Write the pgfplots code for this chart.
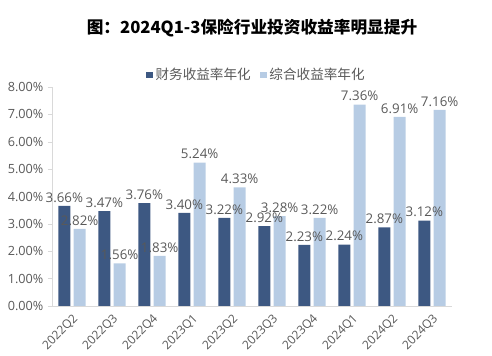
\documentclass[border=0pt]{standalone}
\usepackage{pgfplots}
\pgfplotsset{compat=1.18}
\usepackage{fontspec}
\setmainfont{Open Sans}
\newfontfamily\cjk{Noto Sans CJK SC}
\definecolor{darkb}{RGB}{61,88,130}
\definecolor{lightb}{RGB}{183,204,228}
\definecolor{txt}{RGB}{89,89,89}
\definecolor{axl}{RGB}{217,217,217}
\begin{document}
\begin{tikzpicture}
\useasboundingbox (-54pt,-37.5pt) rectangle (315pt,229.5pt);
\begin{axis}[
  at={(0,0)}, anchor=origin,
  scale only axis, width=300pt, height=164.25pt,
  ybar=2.5pt, bar width=9pt,
  xmin=-0.5, xmax=9.5, ymin=0, ymax=8,
  xtick={0,...,9},
  xticklabels={2022Q2,2022Q3,2022Q4,2023Q1,2023Q2,2023Q3,2023Q4,2024Q1,2024Q2,2024Q3},
  xticklabel style={rotate=45, anchor=north east, font=\fontsize{9pt}{10pt}\selectfont, text=txt, inner sep=1.5pt},
  ytick={0,1,...,8},
  yticklabel={\pgfmathprintnumber[fixed,fixed zerofill,precision=2]{\tick}\%},
  yticklabel style={font=\fontsize{9.5pt}{10pt}\selectfont, text=txt},
  /pgf/number format/assume math mode=true,
  axis x line*=bottom, axis y line*=left,
  axis line style={axl, -},
  x axis line style={axl},
  major x tick style={draw=none},
  major y tick style={axl},
  tick align=outside, major tick length=3pt,
  nodes near coords={\pgfmathprintnumber[fixed,fixed zerofill,precision=2]{\pgfplotspointmeta}\%},
  nodes near coords style={font=\fontsize{10pt}{11pt}\selectfont, text=txt, inner sep=2.5pt},
  legend style={at={(0.512,1.055)}, anchor=center, draw=none, fill=none,
    legend columns=2, font=\cjk\fontsize{10.2pt}{11pt}\selectfont, text=txt,
    /tikz/every even column/.append style={column sep=5pt},
    legend cell align=left},
  legend image code/.code={\fill[#1] (0pt,-2.5pt) rectangle (5pt,2.5pt);},
  clip=false,
]
\addplot[fill=darkb, draw=none] coordinates {(0,3.66) (1,3.47) (2,3.76) (3,3.40) (4,3.22) (5,2.92) (6,2.23) (7,2.24) (8,2.87) (9,3.12)};
\addplot[fill=lightb, draw=none] coordinates {(0,2.82) (1,1.56) (2,1.83) (3,5.24) (4,4.33) (5,3.28) (6,3.22) (7,7.36) (8,6.91) (9,7.16)};
\legend{财务收益率年化,综合收益率年化}
\end{axis}
\node[font=\cjk\bfseries\fontsize{12.5pt}{14pt}\selectfont, text=black] at (135pt,208.5pt) {图：2024Q1-3保险行业投资收益率明显提升};
\end{tikzpicture}
\end{document}
